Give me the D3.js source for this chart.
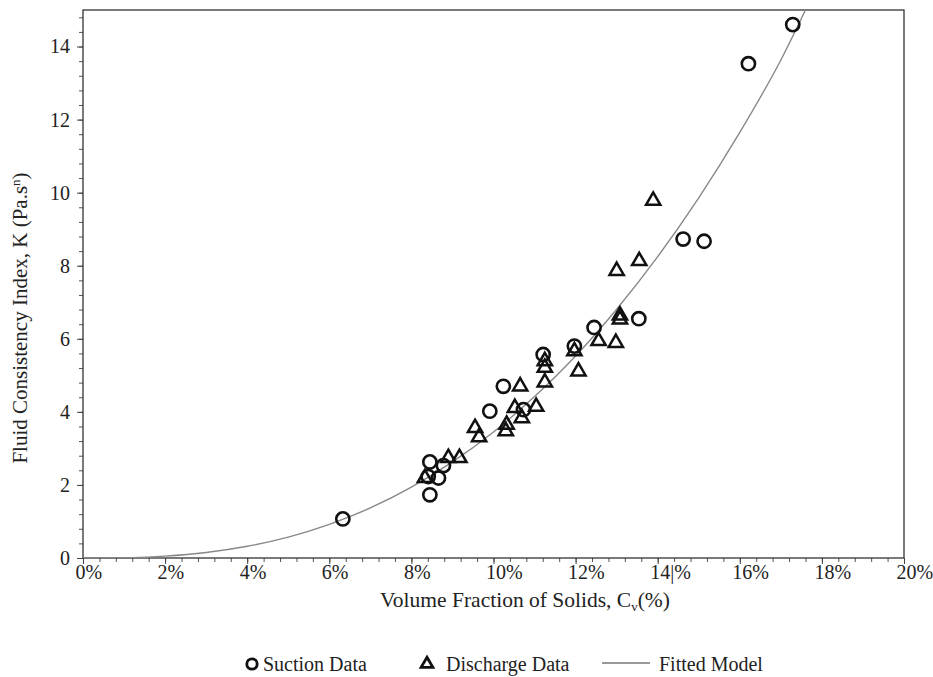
<!DOCTYPE html>
<html>
<head>
<meta charset="utf-8">
<script src="https://cdn.jsdelivr.net/npm/d3@7"></script>
<style>
  html, body { margin: 0; padding: 0; background: #fff; }
  svg { display: block; }
  text { font-family: "Liberation Serif", "Times New Roman", serif; fill: #222; }
</style>
</head>
<body>
<svg id="chart" width="933" height="677"></svg>
<script>
// ---- data ----
const suctionCv = [6.33, 8.45, 8.41, 8.66, 8.45, 8.78, 9.91, 10.24, 10.73, 11.21, 11.97, 12.45, 13.54, 14.62, 15.13, 16.21, 17.29];
const suctionK  = [1.07, 2.63, 2.23, 2.19, 1.73, 2.53, 4.02, 4.70, 4.06, 5.57, 5.80, 6.31, 6.55, 8.73, 8.67, 13.53, 14.60];

const dischargeCv = [8.33, 8.90, 9.17, 9.55, 9.65, 10.32, 10.30, 10.52, 10.69, 10.65, 11.04, 11.25, 11.25, 11.25, 11.97, 12.07, 12.56, 12.98, 13.08, 13.08, 13.00, 13.55, 13.89];
const dischargeK  = [2.19, 2.74, 2.74, 3.56, 3.31, 3.65, 3.47, 4.11, 3.83, 4.70, 4.14, 5.39, 5.21, 4.81, 5.66, 5.11, 5.94, 5.89, 6.53, 6.64, 7.86, 8.13, 9.78];

const fittedCv = [0, 1.2, 2, 3, 4, 5, 6, 7, 8, 9, 10, 11, 12, 13, 14, 15, 16, 17, 17.6];
const fittedK  = [0, 0.01, 0.05, 0.15, 0.32, 0.57, 0.92, 1.37, 1.94, 2.63, 3.45, 4.42, 5.53, 6.81, 8.25, 9.86, 11.65, 13.63, 15.0];

const xTickValues = [0, 2, 4, 6, 8, 10, 12, 14, 16, 18, 20];
const xTickLabels = ["0%", "2%", "4%", "6%", "8%", "10%", "12%", "14|%", "16%", "18%", "20%"];
const yTickValues = [0, 2, 4, 6, 8, 10, 12, 14];
const yTickLabels = ["0", "2", "4", "6", "8", "10", "12", "14"];

// ---- layout ----
const W = 933, H = 677;
const margin = { left: 83, right: 29, top: 10, bottom: 119 };
const iw = W - margin.left - margin.right;
const ih = H - margin.top - margin.bottom;

const svg = d3.select("#chart");
const g = svg.append("g").attr("transform", `translate(${margin.left},${margin.top})`);

const x = d3.scaleLinear().domain([0, 20]).range([0, iw]);
const y = d3.scaleLinear().domain([0, 15]).range([ih, 0]);

svg.append("defs").append("clipPath").attr("id", "clip")
  .append("rect").attr("x", 0).attr("y", 0).attr("width", iw).attr("height", ih);

// minor ticks
const minorX = d3.range(0, 20.001, 0.4);
const minorY = d3.range(0, 15.001, 0.4);
g.append("g").attr("transform", `translate(0,${ih})`)
  .call(d3.axisBottom(x).tickValues(minorX).tickSize(4).tickFormat(""))
  .call(a => a.select(".domain").remove())
  .call(a => a.selectAll("line").attr("stroke", "#555"));
g.append("g")
  .call(d3.axisLeft(y).tickValues(minorY).tickSize(4).tickFormat(""))
  .call(a => a.select(".domain").remove())
  .call(a => a.selectAll("line").attr("stroke", "#555"));

// major axes
const xAxis = g.append("g").attr("transform", `translate(0,${ih})`)
  .call(d3.axisBottom(x).tickValues(xTickValues).tickSize(6).tickPadding(1)
    .tickFormat((d, i) => xTickLabels[i]));
xAxis.select(".domain").remove();
xAxis.selectAll("line").attr("stroke", "#444");
xAxis.selectAll("text").style("font-size", "20px").attr("fill", "#222")
  .attr("text-anchor", "start").attr("x", -8);

const yAxis = g.append("g")
  .call(d3.axisLeft(y).tickValues(yTickValues).tickSize(6).tickPadding(7)
    .tickFormat((d, i) => yTickLabels[i]));
yAxis.select(".domain").remove();
yAxis.selectAll("line").attr("stroke", "#444");
yAxis.selectAll("text").style("font-size", "20px").attr("fill", "#222");

// frame
g.append("rect").attr("x", 0).attr("y", 0).attr("width", iw).attr("height", ih)
  .attr("fill", "none").attr("stroke", "#333").attr("stroke-width", 1.3);

// fitted curve
const fitted = fittedCv.map((c, i) => [c, fittedK[i]]);
g.append("path")
  .datum(fitted)
  .attr("clip-path", "url(#clip)")
  .attr("fill", "none")
  .attr("stroke", "#888")
  .attr("stroke-width", 1.4)
  .attr("d", d3.line().x(d => x(d[0])).y(d => y(d[1])).curve(d3.curveMonotoneX));

// discharge triangles
const tri = d3.symbol().type(d3.symbolTriangle).size(88);
g.append("g").selectAll("path")
  .data(dischargeCv.map((c, i) => [c, dischargeK[i]]))
  .join("path")
  .attr("d", tri)
  .attr("transform", d => `translate(${x(d[0])},${y(d[1])})`)
  .attr("fill", "none").attr("stroke", "#111").attr("stroke-width", 2.5);

// suction circles
g.append("g").selectAll("circle")
  .data(suctionCv.map((c, i) => [c, suctionK[i]]))
  .join("circle")
  .attr("cx", d => x(d[0])).attr("cy", d => y(d[1])).attr("r", 6.6)
  .attr("fill", "none").attr("stroke", "#111").attr("stroke-width", 2.6);

// axis titles
const xt = svg.append("text")
  .attr("x", 525).attr("y", 607)
  .attr("text-anchor", "middle").style("font-size", "21.5px");
xt.append("tspan").text("Volume Fraction of Solids, C");
xt.append("tspan").text("v").style("font-size", "13px").attr("dy", 4);
xt.append("tspan").text("(%)").attr("dy", -4);

const yt = svg.append("text")
  .attr("transform", `translate(27,318) rotate(-90)`)
  .attr("text-anchor", "middle").style("font-size", "21px");
yt.append("tspan").text("Fluid Consistency Index, K (Pa.s");
yt.append("tspan").text("n").style("font-size", "13px").attr("dy", -7);
yt.append("tspan").text(")").attr("dy", 7);

// legend
const ly = 664;
const leg = svg.append("g");
leg.append("circle").attr("cx", 252).attr("cy", ly).attr("r", 5.2)
  .attr("fill", "none").attr("stroke", "#111").attr("stroke-width", 2.8);
leg.append("text").attr("x", 263).attr("y", ly + 7).style("font-size", "20px").text("Suction Data");
leg.append("path").attr("d", d3.symbol().type(d3.symbolTriangle).size(60))
  .attr("transform", `translate(427,${ly})`)
  .attr("fill", "none").attr("stroke", "#111").attr("stroke-width", 2.8);
leg.append("text").attr("x", 446).attr("y", ly + 7).style("font-size", "20px").text("Discharge Data");
leg.append("line").attr("x1", 602).attr("x2", 650).attr("y1", ly - 1).attr("y2", ly - 1)
  .attr("stroke", "#999").attr("stroke-width", 2);
leg.append("text").attr("x", 659).attr("y", ly + 7).style("font-size", "20px").text("Fitted Model");
</script>
</body>
</html>
